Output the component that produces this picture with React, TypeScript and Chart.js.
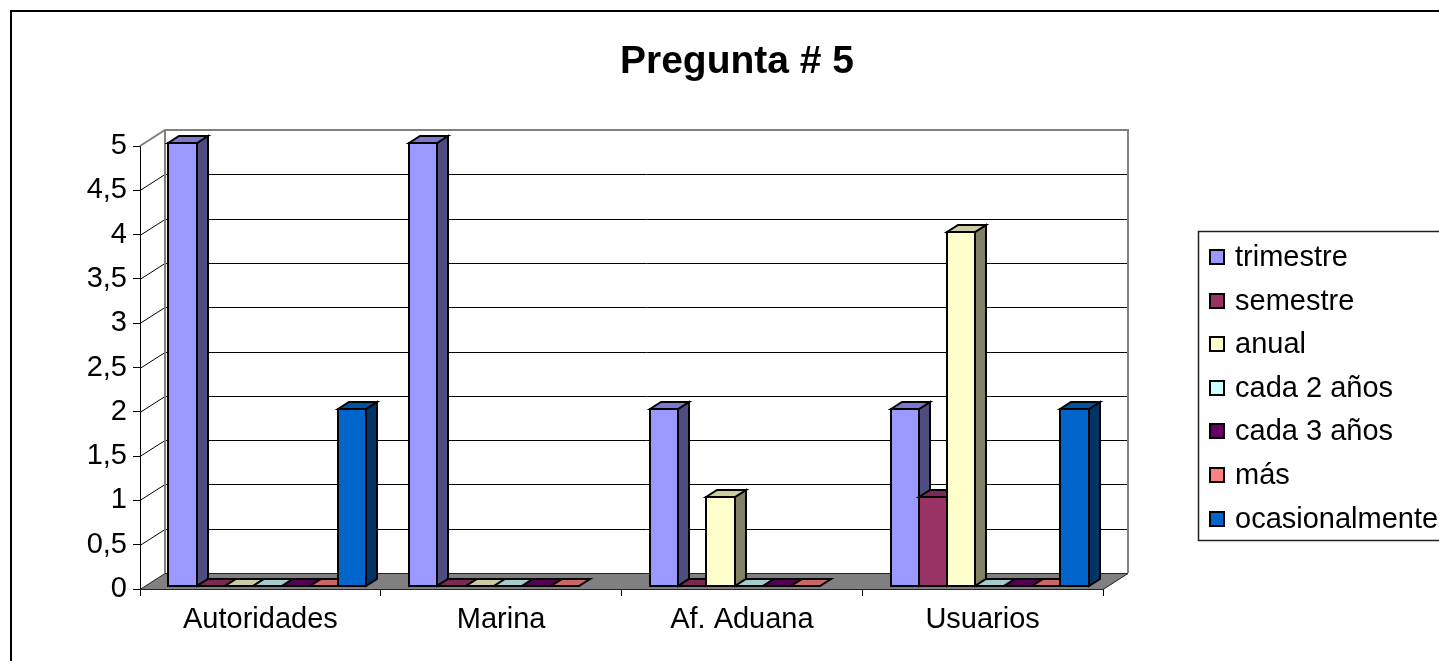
import React, { useEffect, useRef } from 'react';
import { Chart, registerables } from 'chart.js';

Chart.register(...registerables);

const chartTitle = 'Pregunta # 5';
const categories = ['Autoridades', 'Marina', 'Af. Aduana', 'Usuarios'];
const seriesNames = ['trimestre', 'semestre', 'anual', 'cada 2 años', 'cada 3 años', 'más', 'ocasionalmente'];
const trimestre = [5, 5, 2, 2];
const semestre = [0, 0, 0, 1];
const anual = [0, 0, 1, 4];
const cada2 = [0, 0, 0, 0];
const cada3 = [0, 0, 0, 0];
const mas = [0, 0, 0, 0];
const ocasionalmente = [2, null, null, 2];
const seriesValues = [trimestre, semestre, anual, cada2, cada3, mas, ocasionalmente];
const seriesColors = ['#9999FF', '#993366', '#FFFFCC', '#CCFFFF', '#660066', '#FF8080', '#0066CC'];
const yMin = 0;
const yMax = 5;
const yStep = 0.5;

const FONT = "'Liberation Sans', Arial, Helvetica, sans-serif";
const WALL = { dx: 25, dy: -16 };
const BAR = { dx: 7, dy: -3, depthX: 11, depthY: 7 };

function shade(hex: string, f: number) {
  const h = hex.replace('#', '');
  const r = Math.round(parseInt(h.slice(0, 2), 16) * f);
  const g = Math.round(parseInt(h.slice(2, 4), 16) * f);
  const b = Math.round(parseInt(h.slice(4, 6), 16) * f);
  return `rgb(${r},${g},${b})`;
}

function poly(ctx: CanvasRenderingContext2D, pts: number[][], fill: string) {
  ctx.beginPath();
  ctx.moveTo(pts[0][0], pts[0][1]);
  for (let k = 1; k < pts.length; k++) ctx.lineTo(pts[k][0], pts[k][1]);
  ctx.closePath();
  ctx.fillStyle = fill;
  ctx.fill();
  ctx.stroke();
}

const threeD = {
  id: 'threeD',
  beforeDraw(chart: any) {
    const { ctx, width, height } = chart;
    ctx.save();
    ctx.fillStyle = '#fff';
    ctx.fillRect(0, 0, width, height);
    ctx.strokeStyle = '#000';
    ctx.lineWidth = 2;
    ctx.strokeRect(11, 11, width + 60, height + 60);
    ctx.fillStyle = '#000';
    ctx.font = `bold 39px ${FONT}`;
    ctx.textAlign = 'center';
    ctx.textBaseline = 'alphabetic';
    ctx.fillText(chartTitle, 737, 73);
    ctx.restore();
  },
  beforeDatasetsDraw(chart: any) {
    const { ctx, chartArea: a } = chart;
    const y = chart.scales.y;
    const y0 = Math.round(y.getPixelForValue(yMin));
    const yT = Math.round(y.getPixelForValue(yMax));
    const L = Math.round(a.left), R = Math.round(a.right);
    const bl = L + WALL.dx, br = R + WALL.dx, bt = yT + WALL.dy, bb = y0 + WALL.dy;
    ctx.save();
    ctx.fillStyle = '#fff';
    ctx.fillRect(bl, bt, br - bl, bb - bt);
    ctx.strokeStyle = '#000';
    ctx.lineWidth = 1;
    y.ticks.forEach((t: any) => {
      if (t.value === yMax || t.value === yMin) return;
      const p = Math.round(y.getPixelForValue(t.value)) + 0.5;
      ctx.beginPath();
      ctx.moveTo(L, p);
      ctx.lineTo(bl, p + WALL.dy);
      ctx.lineTo(br, p + WALL.dy);
      ctx.stroke();
    });
    ctx.strokeStyle = '#808080';
    ctx.lineWidth = 2;
    ctx.beginPath();
    ctx.moveTo(L, yT);
    ctx.lineTo(bl, bt);
    ctx.lineTo(br, bt);
    ctx.lineTo(br, bb);
    ctx.stroke();
    ctx.beginPath();
    ctx.moveTo(bl, bt);
    ctx.lineTo(bl, bb);
    ctx.stroke();
    // floor
    ctx.fillStyle = '#808080';
    ctx.strokeStyle = '#222';
    ctx.lineWidth = 1;
    ctx.beginPath();
    ctx.moveTo(L, y0 + 0.5);
    ctx.lineTo(R, y0 + 0.5);
    ctx.lineTo(br, bb + 0.5);
    ctx.lineTo(bl, bb + 0.5);
    ctx.closePath();
    ctx.fill();
    ctx.stroke();
    ctx.restore();
  },
  beforeDatasetDraw() {
    return false;
  },
  afterDatasetsDraw(chart: any) {
    const { ctx } = chart;
    ctx.save();
    ctx.lineWidth = 2;
    ctx.strokeStyle = '#000';
    ctx.lineJoin = 'miter';
    chart.data.datasets.forEach((ds: any, i: number) => {
      const meta = chart.getDatasetMeta(i);
      meta.data.forEach((el: any, j: number) => {
        if (ds.data[j] == null) return;
        const { x, y, base, width } = el.getProps(['x', 'y', 'base', 'width'], true);
        const l = Math.round(x - width / 2 + BAR.dx);
        const r = Math.round(x + width / 2 + BAR.dx);
        const t = Math.round(y + BAR.dy);
        const b = Math.round(base + BAR.dy);
        const c = ds.backgroundColor as string;
        const dX = BAR.depthX, dY = BAR.depthY;
        if (b - t > 0.5) {
          poly(ctx, [[l, b], [l, t], [r, t], [r, b]], c);
          poly(ctx, [[r, b], [r, t], [r + dX, t - dY], [r + dX, b - dY]], shade(c, 0.5));
        }
        poly(ctx, [[l, t], [l + dX, t - dY], [r + dX, t - dY], [r, t]], shade(c, 0.8));
      });
    });
    ctx.restore();
  },
  afterDraw(chart: any) {
    const { ctx } = chart;
    ctx.save();
    ctx.fillStyle = '#fff';
    ctx.fillRect(1198.5, 231.5, 400, 309);
    ctx.strokeStyle = '#222';
    ctx.lineWidth = 1.5;
    ctx.strokeRect(1198.5, 231.5, 400, 309);
    ctx.font = `29px ${FONT}`;
    ctx.textBaseline = 'middle';
    ctx.textAlign = 'left';
    ctx.lineWidth = 2;
    chart.data.datasets.forEach((ds: any, i: number) => {
      const cy = 257 + i * 43.6;
      const top = Math.round(cy - 7);
      ctx.fillStyle = ds.backgroundColor;
      ctx.fillRect(1210, top, 14, 14);
      ctx.strokeStyle = '#000';
      ctx.strokeRect(1210, top, 14, 14);
      ctx.fillStyle = '#000';
      ctx.fillText(ds.label, 1235, cy + 1);
    });
    ctx.restore();
  },
};

export default function App() {
  const ref = useRef<HTMLCanvasElement | null>(null);
  useEffect(() => {
    if (!ref.current) return;
    Chart.defaults.font.family = FONT;
    const chart = new Chart(ref.current, {
      type: 'bar',
      data: {
        labels: categories,
        datasets: seriesNames.map((name, i) => ({
          label: name,
          data: seriesValues[i],
          backgroundColor: seriesColors[i],
          borderColor: '#000',
          borderWidth: 1,
          barPercentage: 1,
          categoryPercentage: 0.823,
        })),
      },
      plugins: [threeD],
      options: {
        responsive: false,
        maintainAspectRatio: false,
        animation: false,
        devicePixelRatio: 1,
        layout: { padding: { left: 0, top: 146, right: 336, bottom: 0 } },
        plugins: {
          legend: { display: false },
          title: { display: false },
          tooltip: { enabled: false },
        },
        scales: {
          x: {
            type: 'category',
            afterFit: (s: any) => { s.height = 72; },
            grid: { offset: true, drawOnChartArea: false, drawTicks: true, tickLength: 7, color: '#000' },
            border: { display: true, color: '#000' },
            ticks: { color: '#000', font: { size: 29, family: FONT }, padding: 7, maxRotation: 0 },
          },
          y: {
            min: yMin,
            max: yMax,
            afterFit: (s: any) => { s.width = 140; },
            grid: { drawOnChartArea: false, drawTicks: true, tickLength: 7, color: '#000' },
            border: { display: true, color: '#000' },
            ticks: {
              stepSize: yStep,
              color: '#000',
              padding: 6,
              font: { size: 29, family: FONT },
              callback: (v: any) => String(v).replace('.', ','),
            },
          },
        },
      } as any,
    });
    return () => chart.destroy();
  }, []);
  return (
    <div style={{ position: 'absolute', left: 0, top: 0, width: 1439, height: 661, background: '#fff' }}>
      <canvas ref={ref} width={1439} height={661} style={{ display: 'block' }} />
    </div>
  );
}
